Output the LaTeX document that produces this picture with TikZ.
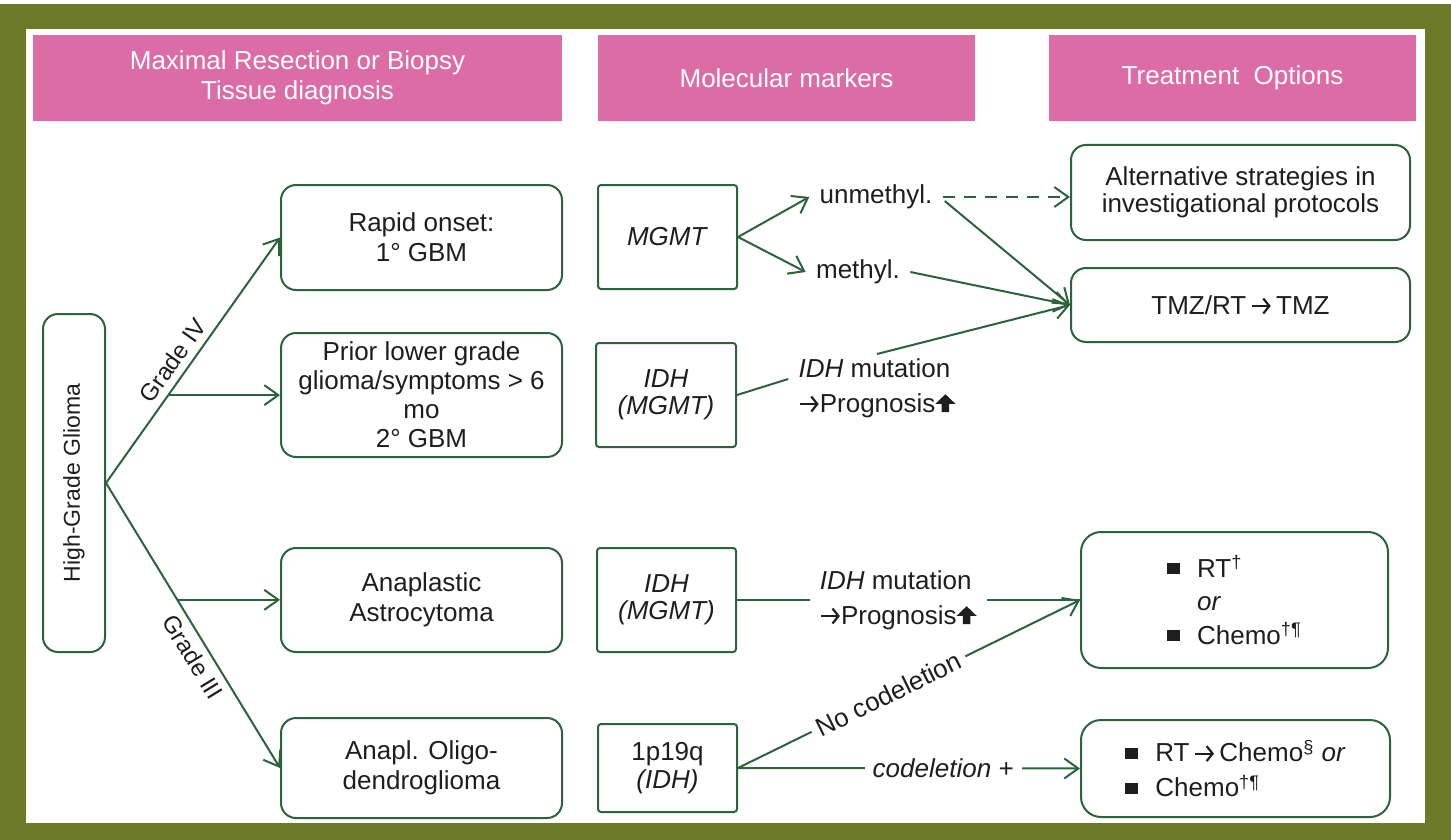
\documentclass[tikz,border=0pt]{standalone}
\usepackage{fontspec}
\setmainfont{Liberation Sans}
\usetikzlibrary{arrows.meta,calc}
\definecolor{frameolive}{RGB}{108,122,40}
\definecolor{hdrpink}{RGB}{220,108,166}
\definecolor{lgreen}{RGB}{44,99,60}
\definecolor{ink}{RGB}{30,30,30}
% square bullet, bold upward arrow and open rightward arrow used inside the texts
\newcommand\sqbul{{\color{ink}\rule[1.5pt]{6.5pt}{5.5pt}}}
\newcommand\upbold{\tikz[x=1pt,y=1pt,baseline=0pt]{\fill[ink] (0,9)--(5,4.2)--(1.9,4.2)--(1.9,0)--(-1.9,0)--(-1.9,4.2)--(-5,4.2)--cycle;}}
\newcommand\rarr{\tikz[x=1pt,y=1pt,baseline=0pt]{\draw[ink,line width=1.1pt,-{Straight Barb[length=3pt,width=7.5pt]}] (0,4.1) -- (9.5,4.1);}}
\begin{document}
\begin{tikzpicture}[x=0.5pt,y=-0.5pt,
  txt/.style={text=ink,font=\fontsize{13}{15}\selectfont},
  hdr/.style={fill=hdrpink,text=white,font=\fontsize{13}{15.25}\selectfont,align=center,minimum height=43pt,inner sep=0pt},
  rbox/.style={txt,draw=lgreen,line width=1pt,rounded corners=7.5pt,align=center,minimum width=140.5pt,inner sep=0pt},
  sbox/.style={txt,draw=lgreen,line width=1pt,rounded corners=1.5pt,align=center,inner sep=0pt},
  lbl/.style={txt,align=left,inner xsep=5pt,inner ysep=2pt},
  link/.style={draw=lgreen,line width=1pt},
  arr/.style={link,-{Straight Barb[length=7pt,width=10pt]}},
]
% frame
\fill[frameolive] (0,0) rectangle (1451,840);
\fill[white] (0,0) rectangle (1451,4);
\fill[white] (26,29) rectangle (1425,823);

% column headers
\node[hdr,minimum width=264.5pt] (h1) at (297.5,78) {Maximal Resection or Biopsy\\Tissue diagnosis};
\node[hdr,minimum width=188.5pt] (h2) at (786.5,78) {Molecular markers};
\node[hdr,minimum width=183.5pt] (h3) at (1232.5,78) {Treatment~~Options};

% diagnosis column
\node[rbox,minimum width=31pt,minimum height=169pt] (hgg) at (74,483) {};
\node[txt,rotate=90,font=\fontsize{11.5}{13}\selectfont] (hggt) at (hgg.center) {High-Grade Glioma};
\node[rbox,minimum height=52.5pt] (rapid) at (421.5,237.5) {Rapid onset:\\1° GBM};
\node[rbox,minimum height=62pt,font=\fontsize{13}{14.5}\selectfont] (prior) at (421.5,395) {Prior lower grade\\glioma/symptoms > 6\\mo\\2° GBM};
\node[rbox,minimum height=52pt] (astro) at (421.5,600) {Anaplastic\\Astrocytoma};
\node[rbox,minimum height=50pt] (oligo) at (421.5,768) {Anapl. Oligo-\\dendroglioma};

% marker column
\node[sbox,minimum width=69.5pt,minimum height=52pt] (mgmt) at (667.5,237) {\textit{MGMT}};
\node[sbox,minimum width=70pt,minimum height=52pt,font=\fontsize{13}{13.5}\selectfont] (idh1) at (666,395) {\textit{IDH}\\\textit{(MGMT)}};
\node[sbox,minimum width=69.5pt,minimum height=52pt,font=\fontsize{13}{13.5}\selectfont] (idh2) at (666.5,600) {\textit{IDH}\\\textit{(MGMT)}};
\node[sbox,minimum width=69.5pt,minimum height=44pt,font=\fontsize{13}{14}\selectfont] (p19) at (667.5,768) {1p19q\\\textit{(IDH)}};

% treatment column
\node[rbox,minimum width=169.5pt,minimum height=47.5pt,font=\fontsize{13}{13.5}\selectfont] (alt) at (1240.5,192.5) {Alternative strategies in\\investigational protocols};
\node[rbox,minimum width=169.5pt,minimum height=37pt] (tmz) at (1240.5,305) {TMZ/RT\,\rarr\,TMZ};
\node[rbox,rounded corners=10pt,minimum width=153.5pt,minimum height=68pt,align=left,font=\fontsize{13}{16.75}\selectfont] (rtc) at (1234.5,600)
  {\sqbul\hspace{8.5pt}RT\textsuperscript{†}\\\hspace*{15pt}\textit{or}\\\sqbul\hspace{8.5pt}Chemo\textsuperscript{†¶}};
\node[rbox,rounded corners=10pt,minimum width=154.5pt,minimum height=48.5pt,align=left,font=\fontsize{13}{17.5}\selectfont] (rtc2) at (1235.5,768.5)
  {\sqbul\hspace{8.5pt}RT\,\rarr\,Chemo\textsuperscript{§} \textit{or}\\\sqbul\hspace{8.5pt}Chemo\textsuperscript{†¶}};

% marker outcome labels
\node[lbl] (unm) at (876,197) {unmethyl.};
\node[lbl] (met) at (858,272) {methyl.};
\node[lbl,font=\fontsize{13}{17.5}\selectfont] (txt1) at (877,388) {\textit{IDH} mutation\\\rarr Prognosis\upbold};

% grade branches
\draw[arr] (hgg.east) -- node[txt,sloped,above,pos=0.46,font=\fontsize{12}{14}\selectfont] (g4) {Grade IV} (rapid.west);
\draw[arr] (hgg.east) -- node[txt,sloped,below,pos=0.58,font=\fontsize{12}{14}\selectfont] (g3) {Grade III} (oligo.west);
\coordinate (b4) at ($(hgg.east)!0.358!(rapid.west)$);
\draw[arr] (b4) -- (b4 -| prior.west);
\coordinate (b3) at ($(hgg.east)!0.41!(oligo.west)$);
\draw[arr] (b3) -- (b3 -| astro.west);

% MGMT status
\draw[arr] (mgmt.east) -- (unm.west);
\draw[arr] (mgmt.east) -- (met.west);
\draw[arr,dash pattern=on 6pt off 4.5pt] (unm.east) -- (unm.east -| alt.west);
\draw[arr] ($(unm.east)+(2,4)$) -- (tmz.west);
\draw[arr] (met.east) -- (tmz.west);
\draw[arr] (txt1.north) -- (tmz.west);
\draw[link] (idh1.east) -- ($(txt1.west)+(0,-9)$);

% grade III markers
\draw[link] (idh2.east) -- node[lbl,fill=white,pos=0.47,font=\fontsize{13}{17.5}\selectfont] (txt2) {\textit{IDH} mutation\\\rarr Prognosis\upbold} (rtc.west);
\draw[arr] (p19.east) -- node[txt,sloped,fill=white,pos=0.44,inner sep=3pt] (nocod) {No codeletion} (rtc.west);
\draw[arr] (p19.east) -- node[txt,fill=white,pos=0.6,inner xsep=4pt] (cod) {\textit{codeletion +}} (rtc2.west);
\end{tikzpicture}
\end{document}
